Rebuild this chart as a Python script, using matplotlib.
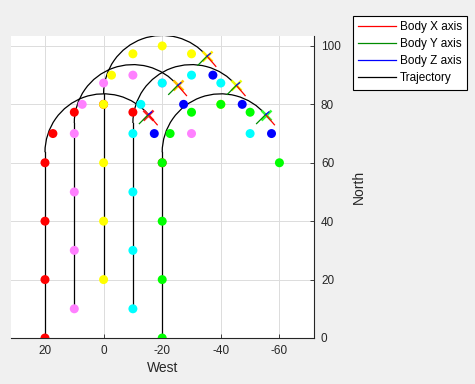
import matplotlib.pyplot as plt
from matplotlib.patches import Arc
from matplotlib.lines import Line2D

plt.rcParams['font.family'] = ['Liberation Sans', 'DejaVu Sans']
plt.rcParams['axes.unicode_minus'] = False

# trajectory starts (West, North) and colours
start_x = [20, 10, 0, -10, -20]
start_y = [0, 10, 20, 10, 0]
traj_colors = ['#ff0000', '#ff80ff', '#ffff00', '#00ffff', '#00ff00']
end_colors = ['#ff2020', '#ffc000', '#ffe800', '#e8ff00', '#30ff30']

# waypoints for each trajectory
wp_x = [
    [20, 20, 20, 20, 17.3, 10, 0, -10, -17.3, -20],
    [10, 10, 10, 10, 7.3, 0, -10, -20, -27.3, -30],
    [0, 0, 0, 0, -2.7, -10, -20, -30, -37.3, -40],
    [-10, -10, -10, -10, -12.7, -20, -30, -40, -47.3, -50],
    [-20, -20, -20, -20, -22.7, -30, -40, -50, -57.3, -60],
]
wp_y = [
    [0, 20, 40, 60, 70, 77.3, 80, 77.3, 70, 60],
    [10, 30, 50, 70, 80, 87.3, 90, 87.3, 80, 70],
    [20, 40, 60, 80, 90, 97.3, 100, 97.3, 90, 80],
    [10, 30, 50, 70, 80, 87.3, 90, 87.3, 80, 70],
    [0, 20, 40, 60, 70, 77.3, 80, 77.3, 70, 60],
]
blue_idx = 8

# path: straight climb, then turn of fixed radius
climb = 63.6
radius = 20
turn_end = 140

# end pose markers and body axes (data units)
end_x = [-15.3, -25.3, -35.3, -45.3, -55.3]
end_y = [76.5, 86.5, 96.5, 86.5, 76.5]
body_x = (-3.0, -3.5)
body_y = (3.1, -3.1)
body_z = (-1.1, 0.9)

txt = '#262626'
fig = plt.figure(figsize=(4.75, 3.84), dpi=100, facecolor='#f0f0f0')
ax = fig.add_axes([11/475, 46/384, 303/475, 302/384])

for i in range(len(start_x)):
    ax.plot([start_x[i], start_x[i]], [start_y[i], start_y[i] + climb],
            color='black', lw=0.9, zorder=2)
    ax.add_patch(Arc((start_x[i] - radius, start_y[i] + climb), 2*radius, 2*radius,
                     theta1=0, theta2=turn_end, color='black', lw=0.9, zorder=2))
    cols = [traj_colors[i]] * len(wp_x[i])
    cols[blue_idx] = '#0000ff'
    ax.scatter(wp_x[i], wp_y[i], s=42, c=cols, edgecolors='none', zorder=3)

for i in range(len(end_x)):
    ax.plot(end_x[i], end_y[i], marker='x', ms=6.5, mew=1.8, color=end_colors[i], zorder=4)
    ax.plot([end_x[i], end_x[i] + body_x[0]], [end_y[i], end_y[i] + body_x[1]],
            color='#ff0000', lw=0.9, zorder=5)
    ax.plot([end_x[i], end_x[i] + body_y[0]], [end_y[i], end_y[i] + body_y[1]],
            color='#008c00', lw=0.9, zorder=5)
    ax.plot([end_x[i], end_x[i] + body_z[0]], [end_y[i], end_y[i] + body_z[1]],
            color='#0000ff', lw=0.9, zorder=5)

ax.set_xlim(31.6, -71.8)
ax.set_ylim(0, 103.4)
ax.set_xticks([20, 0, -20, -40, -60])
ax.set_yticks([0, 20, 40, 60, 80, 100])
ax.yaxis.tick_right()
ax.yaxis.set_label_position('right')
ax.tick_params(direction='in', length=3, width=0.6, colors=txt, labelsize=8.5, pad=5)
ax.grid(True, color='#dcdcdc', lw=0.7)
ax.set_axisbelow(True)
for s in ['top', 'left']:
    ax.spines[s].set_visible(False)
for s in ['bottom', 'right']:
    ax.spines[s].set_color(txt)
    ax.spines[s].set_linewidth(0.8)
ax.set_xlabel('West', fontsize=10, color=txt, labelpad=3)
ax.set_ylabel('North', fontsize=10, color=txt, labelpad=8)

handles = [
    Line2D([], [], color='#ff0000', lw=0.9, label='Body X axis'),
    Line2D([], [], color='#008c00', lw=0.9, label='Body Y axis'),
    Line2D([], [], color='#0000ff', lw=0.9, label='Body Z axis'),
    Line2D([], [], color='black', lw=0.9, label='Trajectory'),
]
leg = fig.legend(handles=handles, loc='upper left', bbox_to_anchor=(353/475, 1 - 16/384),
                 fontsize=8.5, frameon=True, fancybox=False, framealpha=1,
                 edgecolor='black', handlelength=3.2, handletextpad=0.3,
                 labelspacing=0.42, borderpad=0.45, borderaxespad=0)
leg.get_frame().set_linewidth(0.8)

fig.savefig('out.png', dpi=100, facecolor=fig.get_facecolor())
